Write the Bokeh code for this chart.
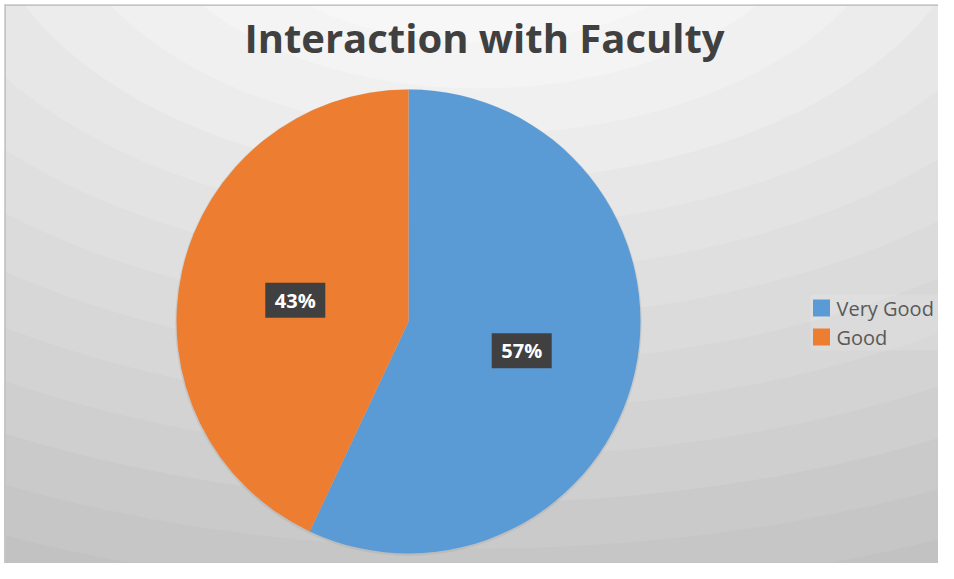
import numpy as np
from bokeh.plotting import figure
from bokeh.models import Range1d
from bokeh.core.properties import value
from bokeh.embed import file_html
from bokeh.resources import INLINE

# ---- data ----
categories = ["Very Good", "Good"]
shares = [57, 43]
colors = ["#5B9BD5", "#ED7D31"]
title_text = "Interaction with Faculty"

W, H = 938, 563
OFF = 4  # white strip left/top as in the reference


def Y(py):
    return 579 - py


p = figure(width=W, height=H, x_range=Range1d(OFF, W), y_range=Range1d(Y(H), Y(OFF)),
           output_backend="svg", toolbar_location=None,
           min_border_left=OFF, min_border_top=OFF, min_border_right=0, min_border_bottom=0)
p.axis.visible = False
p.grid.visible = False
p.outline_line_color = None
p.background_fill_color = "#c0c0c0"
p.border_fill_color = "white"

# ---- background: banded elliptical gradient ----
cx, cy = 479, Y(-120)
sx = 0.6
step = 46
radii = [346 + step * k for k in range(10, -8, -1)]
for r in radii:
    if r <= 0:
        continue
    rm = max(r - step / 2, 0)
    g = 247 - max(rm - 150, 0) * (55 / 610)
    g = int(round(min(max(g, 190), 248)))
    col = "#%02x%02x%02x" % (g, g, g)
    p.ellipse(x=cx, y=cy, width=2 * r / sx, height=2 * r, fill_color=col, line_color=None)

# border lines (top, left)
p.segment(x0=[OFF, OFF + 0.5], y0=[Y(OFF + 0.5), Y(OFF)], x1=[W, OFF + 0.5], y1=[Y(OFF + 0.5), Y(H)],
          line_color="#c4c4c4", line_width=2)

# ---- pie ----
pcx, pcy, R = 408, Y(321), 232
fr = np.array(shares, dtype=float) / sum(shares)
ends = 90 - np.cumsum(fr) * 360
starts = np.concatenate([[90], ends[:-1]])
# subtle shadow
p.circle(x=pcx, y=pcy - 1, radius=R + 1.2, fill_color="#9a9a9a", fill_alpha=0.25, line_color=None)
for i in range(len(categories)):
    p.wedge(x=pcx, y=pcy, radius=R, start_angle=np.radians(ends[i]), end_angle=np.radians(starts[i]),
            fill_color=colors[i], line_color=None)

# ---- data labels ----
mids = np.radians((starts + ends) / 2)
lx = pcx + 0.5 * R * np.cos(mids)
ly = pcy + 0.5 * R * np.sin(mids) - 4
labels = ["%d%%" % s for s in shares]
p.rect(x=lx, y=ly, width=60, height=35, fill_color="#404040", line_color=None)
p.text(x=lx, y=ly, text=labels, text_align="center", text_baseline="middle",
       text_color="white", text_font=value("Open Sans"), text_font_style="bold", text_font_size="20px")

# ---- title ----
p.text(x=[484], y=[Y(37)], text=[title_text], text_align="center", text_baseline="middle",
       text_color="#404040", text_font=value("Open Sans"), text_font_style="bold", text_font_size="40px")

# ---- legend ----
p.rect(x=[882], y=[Y(322)], width=144, height=56, fill_color="#ffffff", fill_alpha=0.12, line_color=None)
leg_y = [Y(307.5), Y(336.5)]
p.rect(x=[821] * 2, y=leg_y, width=17, height=17, fill_color=colors, line_color=None)
p.text(x=[836] * 2, y=leg_y, text=categories, text_align="left", text_baseline="middle",
       text_color="#595959", text_font=value("Open Sans"), text_font_size="20px")

open("out.html", "w").write(file_html(p, INLINE))
